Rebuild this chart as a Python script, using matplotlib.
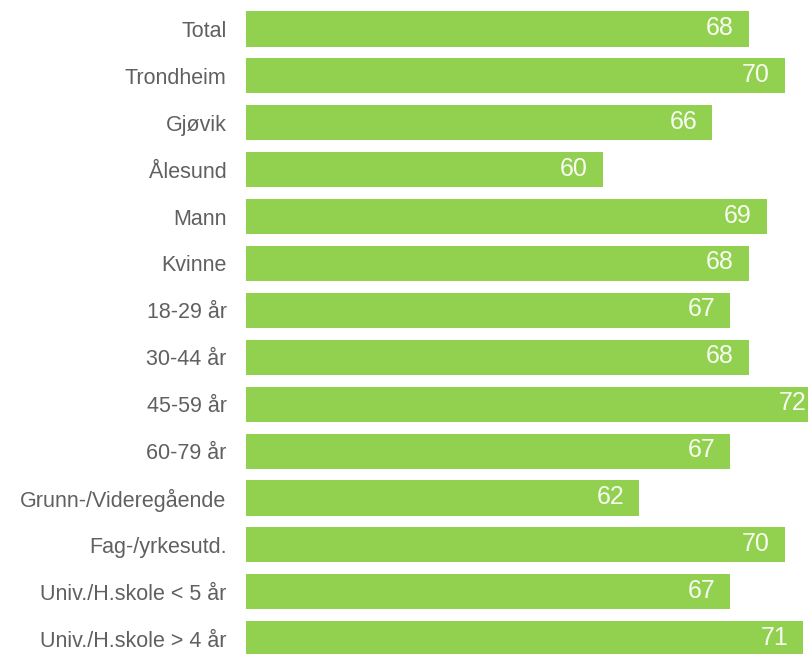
import matplotlib.pyplot as plt

# Andel per gruppe
groups = ["Total", "Trondheim", "Gjøvik", "Ålesund", "Mann", "Kvinne",
          "18-29 år", "30-44 år", "45-59 år", "60-79 år",
          "Grunn-/Videregående", "Fag-/yrkesutd.",
          "Univ./H.skole < 5 år", "Univ./H.skole > 4 år"]
values = [68, 70, 66, 60, 69, 68, 67, 68, 72, 67, 62, 70, 67, 71]

green = "#92D050"
grey = "#606060"

plt.rcParams["font.family"] = ["Liberation Sans", "DejaVu Sans"]

fig = plt.figure(figsize=(8.08, 6.54), dpi=100)
ax = fig.add_axes([246 / 808, 0, 1 - 246 / 808, 1])

pos = list(range(len(groups)))
ax.barh(pos, values, height=0.75, color=green)

ax.set_xlim(40.36, 71.27)
ax.set_ylim(13.326, -0.618)

# verdien skrives inne i enden av hver stolpe
for p, v in zip(pos, values):
    ax.annotate(str(v), xy=(v, p), xytext=(-15, 1), textcoords="offset pixels",
                ha="right", va="center", color="#F8FCF0", fontsize=18,
                annotation_clip=False)

ax.set_yticks(pos)
ax.set_yticklabels(groups, fontsize=15.5, color=grey)
ax.tick_params(axis="y", length=0, pad=14)
ax.set_xticks([])
for s in ax.spines.values():
    s.set_visible(False)

fig.savefig("out.png", dpi=100)
